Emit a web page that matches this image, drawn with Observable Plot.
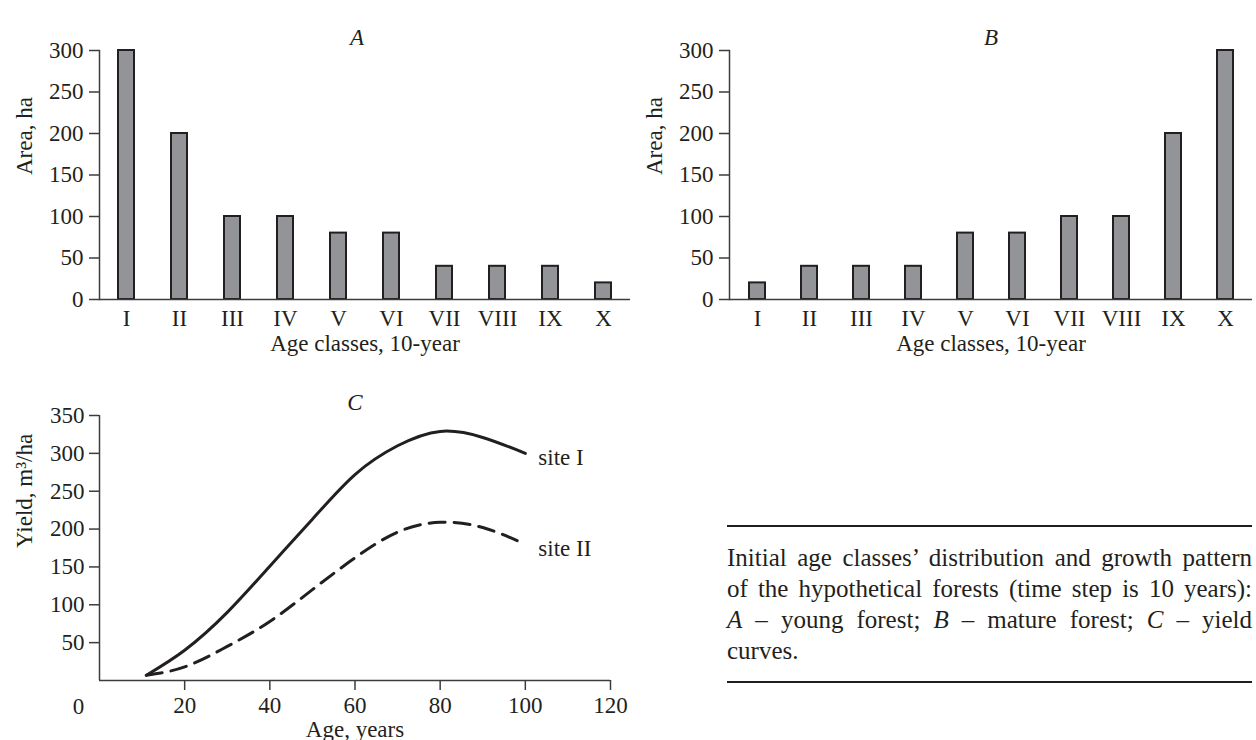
<!DOCTYPE html>
<html>
<head>
<meta charset="utf-8">
<script src="https://cdn.jsdelivr.net/npm/d3@7"></script>
<script src="https://cdn.jsdelivr.net/npm/@observablehq/plot@0.6"></script>
<style>
  html, body { margin: 0; padding: 0; background: #fff; }
  body { width: 1256px; height: 740px; position: relative; overflow: hidden;
         font-family: "Liberation Serif", "Times New Roman", serif; color: #231f20; }
  .panel { position: absolute; }
  #caption { position: absolute; left: 727px; top: 525px; width: 525px;
             border-top: 2px solid #231f20; border-bottom: 2px solid #231f20;
             padding: 15px 0 15px 0; font-size: 25px; line-height: 31px; }
  #caption .ln { text-align: justify; text-align-last: justify; white-space: nowrap; }
  #caption .last { text-align: left; text-align-last: left; }
</style>
</head>
<body>
<div id="pA" class="panel" style="left:0;top:0"></div>
<div id="pB" class="panel" style="left:630px;top:0"></div>
<div id="pC" class="panel" style="left:0;top:370px"></div>
<div id="caption">
  <div class="ln">Initial age classes’ distribution and growth pattern</div>
  <div class="ln">of the hypothetical forests (time step is 10 years):</div>
  <div class="ln"><i>A</i> – young forest; <i>B</i> – mature forest; <i>C</i> – yield</div>
  <div class="ln last">curves.</div>
</div>
<script>
// ---- data ----
const ageClasses = ["I","II","III","IV","V","VI","VII","VIII","IX","X"];
const areaYoung  = [300, 200, 100, 100, 80, 80, 40, 40, 40, 20];
const areaMature = [20, 40, 40, 40, 80, 80, 100, 100, 200, 300];
const areaTicks  = [0, 50, 100, 150, 200, 250, 300];

const ages        = [11, 20, 30, 40, 50, 60, 70, 80, 90, 100];
const yieldSiteI  = [7, 40, 90, 151, 213, 272, 310, 329, 321, 300];
const yieldSiteII = [7, 18, 45, 78, 120, 162, 196, 209, 202, 180];
const yieldTicks  = [50, 100, 150, 200, 250, 300, 350];
const ageTicks    = [20, 40, 60, 80, 100, 120];

const INK = "#231f20";
const AXIS = "#3c3c3c";
const BAR = "#929497";
const FONT = "'Liberation Serif', 'Times New Roman', serif";
const FS = 23;

function barPanel(values, title, width, marginRight, titleDx) {
  const data = ageClasses.map((c, i) => ({cls: c, area: values[i]}));
  return Plot.plot({
    width, height: 370,
    marginLeft: 99, marginRight, marginTop: 50, marginBottom: 71,
    style: {fontFamily: FONT, fontSize: FS + "px", color: INK, background: "transparent"},
    x: {domain: ageClasses, paddingInner: 0.7, paddingOuter: 0.35},
    y: {domain: [0, 300]},
    marks: [
      Plot.barY(data, {x: "cls", y: "area", fill: BAR, stroke: INK, strokeWidth: 2}),
      Plot.axisY({ticks: areaTicks, tickSize: 10, tickPadding: 6, label: null,
                  fontSize: FS, stroke: AXIS, strokeWidth: 1.5, fill: INK}),
      Plot.axisX({tickSize: 0, tickPadding: 10, label: null, fontSize: FS, fill: INK}),
      Plot.ruleY([0], {stroke: AXIS, strokeWidth: 1.5}),
      Plot.frame({anchor: "left", stroke: AXIS, strokeWidth: 1.5}),
      Plot.text([title], {frameAnchor: "top", dy: -22, dx: titleDx, fontStyle: "italic", fontSize: FS, fill: INK}),
      Plot.text(["Age classes, 10-year"], {frameAnchor: "bottom", dy: 51, fontSize: FS, fill: INK}),
      Plot.text(["Area, ha"], {frameAnchor: "left", dx: -75, rotate: -90, fontSize: FS, fill: INK})
    ]
  });
}

document.getElementById("pA").append(barPanel(areaYoung, "A", 640, 10, -8));
document.getElementById("pB").append(barPanel(areaMature, "B", 626, 4, 0));

const curves = [];
ages.forEach((a, i) => {
  curves.push({age: a, yield: yieldSiteI[i], site: "site I"});
  curves.push({age: a, yield: yieldSiteII[i], site: "site II"});
});
const lastI = {age: ages[ages.length - 1], yield: yieldSiteI[yieldSiteI.length - 1], label: "site I"};
const lastII = {age: ages[ages.length - 1], yield: yieldSiteII[yieldSiteII.length - 1], label: "site II"};

const pC = Plot.plot({
  width: 660, height: 370,
  marginLeft: 99, marginRight: 50, marginTop: 45, marginBottom: 60,
  style: {fontFamily: FONT, fontSize: FS + "px", color: INK, background: "transparent"},
  x: {domain: [0, 120]},
  y: {domain: [0, 350]},
  marks: [
    Plot.axisY({ticks: yieldTicks, tickSize: 10, tickPadding: 5, label: null,
                fontSize: FS, stroke: AXIS, strokeWidth: 1.5, fill: INK}),
    Plot.axisX({ticks: ageTicks, tickSize: 10, tickPadding: 6, label: null,
                fontSize: FS, stroke: AXIS, strokeWidth: 1.5, fill: INK}),
    Plot.ruleX([0], {stroke: AXIS, strokeWidth: 1.5}),
    Plot.ruleY([0], {stroke: AXIS, strokeWidth: 1.5}),
    Plot.text([0], {x: d => d, y: 0, text: d => String(d), dx: -21, dy: 26, fontSize: FS, fill: INK}),
    Plot.line(curves.filter(d => d.site === "site I"), {x: "age", y: "yield", curve: "natural",
      stroke: INK, strokeWidth: 3}),
    Plot.line(curves.filter(d => d.site === "site II"), {x: "age", y: "yield", curve: "natural",
      stroke: INK, strokeWidth: 3, strokeDasharray: "16,9"}),
    Plot.text([lastI, lastII], {x: "age", y: "yield", text: "label", textAnchor: "start",
      dx: 13, dy: 4, fontSize: FS, fill: INK}),
    Plot.text(["C"], {frameAnchor: "top", dy: -22, fontStyle: "italic", fontSize: FS, fill: INK}),
    Plot.text(["Age, years"], {frameAnchor: "bottom", dy: 56, fontSize: FS, fill: INK}),
    Plot.text(["Yield, m³/ha"], {frameAnchor: "left", dx: -75, rotate: -90, fontSize: FS, fill: INK})
  ]
});
document.getElementById("pC").append(pC);
</script>
</body>
</html>
